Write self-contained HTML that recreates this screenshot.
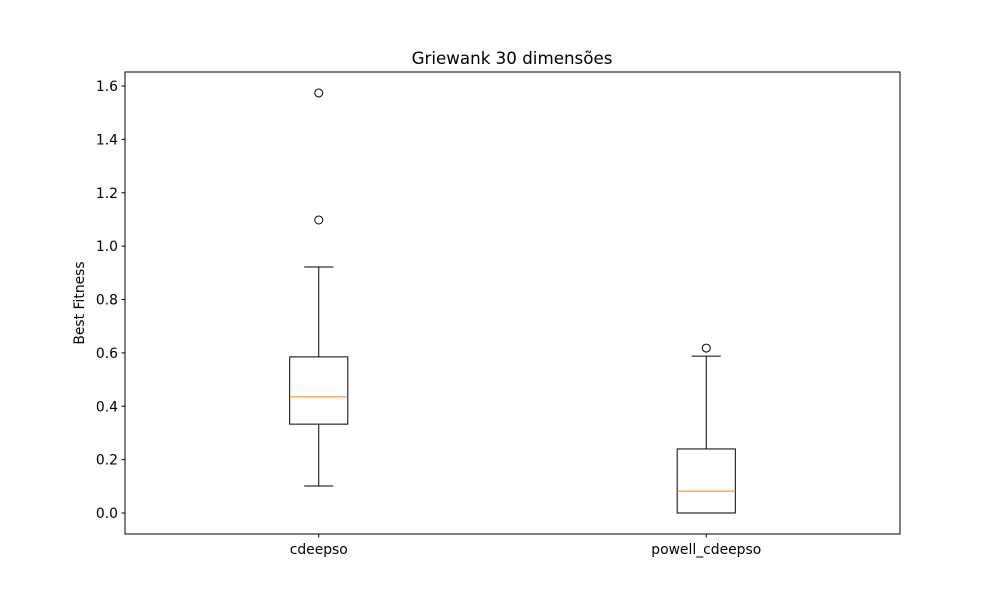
<!DOCTYPE html>
<html><head><meta charset="utf-8"><style>
body{margin:0;background:#fff;}
svg{font-family:"DejaVu Sans","Liberation Sans",sans-serif;}
</style></head><body>
<svg id="chart" width="1000" height="600" xmlns="http://www.w3.org/2000/svg">
<rect width="1000" height="600" fill="#fff"/>
<text x="512" y="64" font-size="16.7" text-anchor="middle">Griewank 30 dimensões</text>
<text transform="translate(84,303) rotate(-90)" font-size="13.9" text-anchor="middle">Best Fitness</text>
<g id="plot"></g>
<rect x="125" y="72" width="775" height="462" fill="none" stroke="#000" stroke-width="1"/>
</svg>
<script>
const categories = ["cdeepso", "powell_cdeepso"];
const q1 = [0.333, 0.0];
const median = [0.435, 0.082];
const q3 = [0.585, 0.240];
const whiskerLow = [0.101, 0.0];
const whiskerHigh = [0.922, 0.588];
const outliers = [[1.574, 1.098], [0.618]];
const yTicks = [0.0, 0.2, 0.4, 0.6, 0.8, 1.0, 1.2, 1.4, 1.6];

const L=125,R=900,T=72,B=534,yMin=-0.0787,yMax=1.6525;
const y=v=>B-(v-yMin)/(yMax-yMin)*(B-T);
const x=i=>L+(i+1-0.5)/2*(R-L);
const NS="http://www.w3.org/2000/svg";
const g=document.getElementById('plot');
function mk(tag,attrs){const e=document.createElementNS(NS,tag);for(const k in attrs)e.setAttribute(k,attrs[k]);g.appendChild(e);return e;}
yTicks.forEach(t=>{
  const ln=mk('line',{x1:L-3.5,x2:L,y1:y(t),y2:y(t),stroke:'#000'});
  
  
  const tx=mk('text',{x:L-7,y:y(t)+5,'font-size':13.9,'text-anchor':'end'});
  tx.textContent=t.toFixed(1);
  
  
});
const bw=(R-L)*0.075, cw=bw/2;
categories.forEach((c,i)=>{
  const cx=x(i);
  const tk=mk('line',{x1:cx,x2:cx,y1:B,y2:B+3.5,stroke:'#000'});
  
  
  const lb=mk('text',{x:cx,y:B+20,'font-size':13.9,'text-anchor':'middle'});
  lb.textContent=c;
  
  
  const box=mk('rect',{x:cx-bw/2,y:y(q3[i]),width:bw,height:y(q1[i])-y(q3[i]),fill:'none',stroke:'#000'});
  
  
  const md=mk('line',{x1:cx-bw/2,x2:cx+bw/2,y1:y(median[i]),y2:y(median[i]),stroke:'#ff7f0e'});
  
  
  const w1=mk('line',{x1:cx,x2:cx,y1:y(q3[i]),y2:y(whiskerHigh[i]),stroke:'#000'});
  
  
  const w2=mk('line',{x1:cx,x2:cx,y1:y(q1[i]),y2:y(whiskerLow[i]),stroke:'#000'});
  
  
  const c1=mk('line',{x1:cx-cw/2,x2:cx+cw/2,y1:y(whiskerHigh[i]),y2:y(whiskerHigh[i]),stroke:'#000'});
  
  
  const c2=mk('line',{x1:cx-cw/2,x2:cx+cw/2,y1:y(whiskerLow[i]),y2:y(whiskerLow[i]),stroke:'#000'});
  
  
  outliers[i].forEach(o=>{
    const p=mk('circle',{cx:cx,cy:y(o),r:4,fill:'none',stroke:'#000'});
    
    
  });
});
</script>
</body></html>
